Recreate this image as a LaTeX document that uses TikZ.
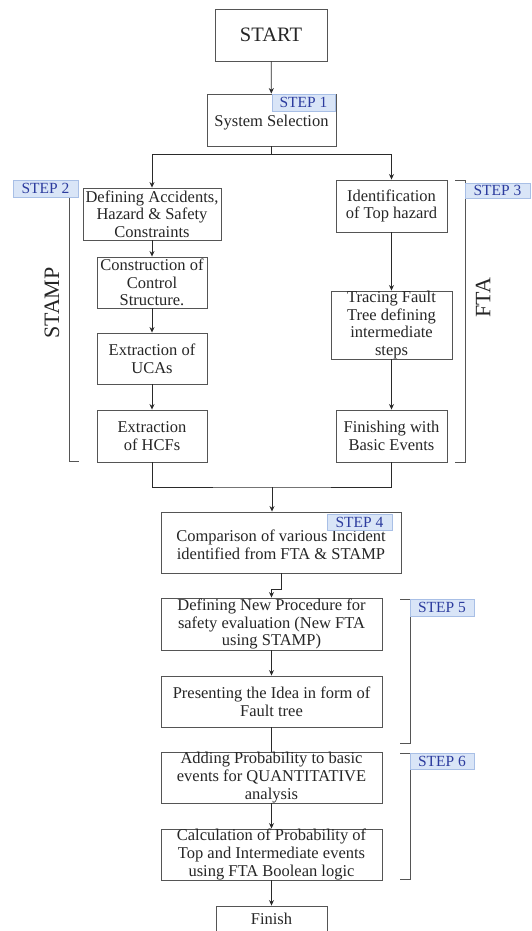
\documentclass[tikz,border=0pt]{standalone}
\usepackage{fontspec}
\setmainfont{Liberation Serif}
\usetikzlibrary{arrows.meta,calc}
\definecolor{boxline}{HTML}{555555}
\definecolor{flowline}{HTML}{2A2A2A}
\definecolor{tagfill}{HTML}{D9E5F7}
\definecolor{tagline}{HTML}{A8BFE6}
\definecolor{tagtext}{HTML}{2C3B9E}
\begin{document}
\begin{tikzpicture}[x=1pt,y=-1pt,
  box/.style={draw=boxline, line width=0.9pt, fill=white, inner sep=0pt,
    align=center, text=black!85, font=\fontsize{16.5}{17.6}\selectfont},
  tag/.style={draw=tagline, line width=0.6pt, fill=tagfill, inner sep=0pt,
    text=tagtext, font=\fontsize{15.5}{16}\selectfont},
  flow/.style={draw=flowline, line width=0.8pt},
  arr/.style={flow, -{Stealth[length=5.5pt,width=5pt]}},
  bracket/.style={draw=boxline, line width=0.9pt},
  side/.style={rotate=90, text=black!85, font=\fontsize{22}{22}\selectfont}
]
\useasboundingbox (0,0) rectangle (531,931);

% main column, top
\node[box, minimum width=112pt, minimum height=52pt, font=\fontsize{20.5}{22}\selectfont] (start) at (271,35) {START};
\node[box, minimum width=129pt, minimum height=52pt, text height=17pt, text depth=3pt] (sel) at (271.5,120) {System Selection};

% STAMP column
\node[box, minimum width=138pt, minimum height=52pt] (acc) at (152,214) {Defining Accidents,\\Hazard \& Safety\\Constraints};
\node[box, minimum width=110pt, minimum height=51pt] (cons) at (152,282.5) {Construction of\\Control\\Structure.};
\node[box, minimum width=110pt, minimum height=51pt] (uca) at (152,358.5) {Extraction of\\UCAs};
\node[box, minimum width=110pt, minimum height=52pt] (hcf) at (152,436) {Extraction\\of HCFs};

% FTA column
\node[box, minimum width=111pt, minimum height=52pt] (top) at (391.5,206) {Identification\\of Top hazard};
\node[box, minimum width=121pt, minimum height=68pt] (trace) at (391.5,325) {Tracing Fault\\Tree defining\\intermediate\\steps};
\node[box, minimum width=111pt, minimum height=52pt] (basic) at (391.5,436) {Finishing with\\Basic Events};

% main column, bottom
\node[box, minimum width=240pt, minimum height=61pt] (comp) at (281,542.5) {\rule{0pt}{16pt}Comparison of various Incident\\identified from FTA \& STAMP};
\node[box, minimum width=221pt, minimum height=52pt] (newp) at (271.5,624) {Defining New Procedure for\\safety evaluation (New FTA\\using STAMP)};
\node[box, minimum width=221pt, minimum height=51pt] (pres) at (271.5,701.5) {Presenting the Idea in form of\\Fault tree};
\node[box, minimum width=221pt, minimum height=51pt] (prob) at (271.5,777.5) {Adding Probability to basic\\events for QUANTITATIVE\\analysis};
\node[box, minimum width=221pt, minimum height=51pt] (calc) at (271.5,854.5) {Calculation of Probability of\\Top and Intermediate events\\using FTA Boolean logic};
\node[box, minimum width=111pt, minimum height=26pt] (fin) at (271.5,919) {Finish};

% connectors
\draw[arr] (start) -- (sel);
\coordinate (split) at ($(sel.south)+(0,8)$);
\draw[flow] (sel.south) -- (split);
\draw[arr] (split) -| (acc.north);
\draw[arr] (split) -| (top.north);
\draw[arr] (acc) -- (cons);
\draw[arr] (cons) -- (uca);
\draw[arr] (uca) -- (hcf);
\draw[arr] (top) -- (trace);
\draw[arr] (trace) -- (basic);
\coordinate (join) at (272,487);
\draw[flow] (hcf.south) |- (join) -| (basic.south);
\draw[arr] (join) -- (join |- comp.north);
\draw[arr] (comp.south) -- ++(0,16) -| (newp.north);
\draw[arr] (newp) -- (pres);
\draw[flow] (pres) -- (prob);
\draw[arr] (prob) -- (calc);
\draw[arr] (calc) -- (fin);

% side brackets
\coordinate (b2t) at (69,190);
\coordinate (b2b) at (69,461);
\draw[bracket] (b2t) -- (b2b) -- ++(10,0);
\coordinate (b3t) at (465,180);
\coordinate (b3b) at (465,462);
\draw[bracket] ($(b3t)+(-10,0)$) -- (b3t) -- (b3b) -- ++(-10,0);
\coordinate (b5t) at (410,599);
\coordinate (b5b) at (410,743);
\draw[bracket] ($(b5t)+(-10,0)$) -- (b5t) -- (b5b) -- ++(-10,0);
\coordinate (b6t) at (410,753);
\coordinate (b6b) at (410,879);
\draw[bracket] ($(b6t)+(-10,0)$) -- (b6t) -- (b6b) -- ++(-10,0);

\node[side] (stamp) at (52,303) {STAMP};
\node[side] (fta) at (483,298) {FTA};

% step tags
\node[tag, minimum width=63pt, minimum height=17pt] (step1) at (303.5,102.5) {STEP 1};
\node[tag, minimum width=65pt, minimum height=17pt] (step2) at (45.5,188.5) {STEP 2};
\node[tag, minimum width=65pt, minimum height=15pt] (step3) at (497.5,190.5) {STEP 3};
\node[tag, minimum width=65pt, minimum height=16pt] (step4) at (359.5,522) {STEP 4};
\node[tag, minimum width=64pt, minimum height=17pt] (step5) at (442,607.5) {STEP 5};
\node[tag, minimum width=64pt, minimum height=16pt] (step6) at (442,761) {STEP 6};
\end{tikzpicture}
\end{document}
